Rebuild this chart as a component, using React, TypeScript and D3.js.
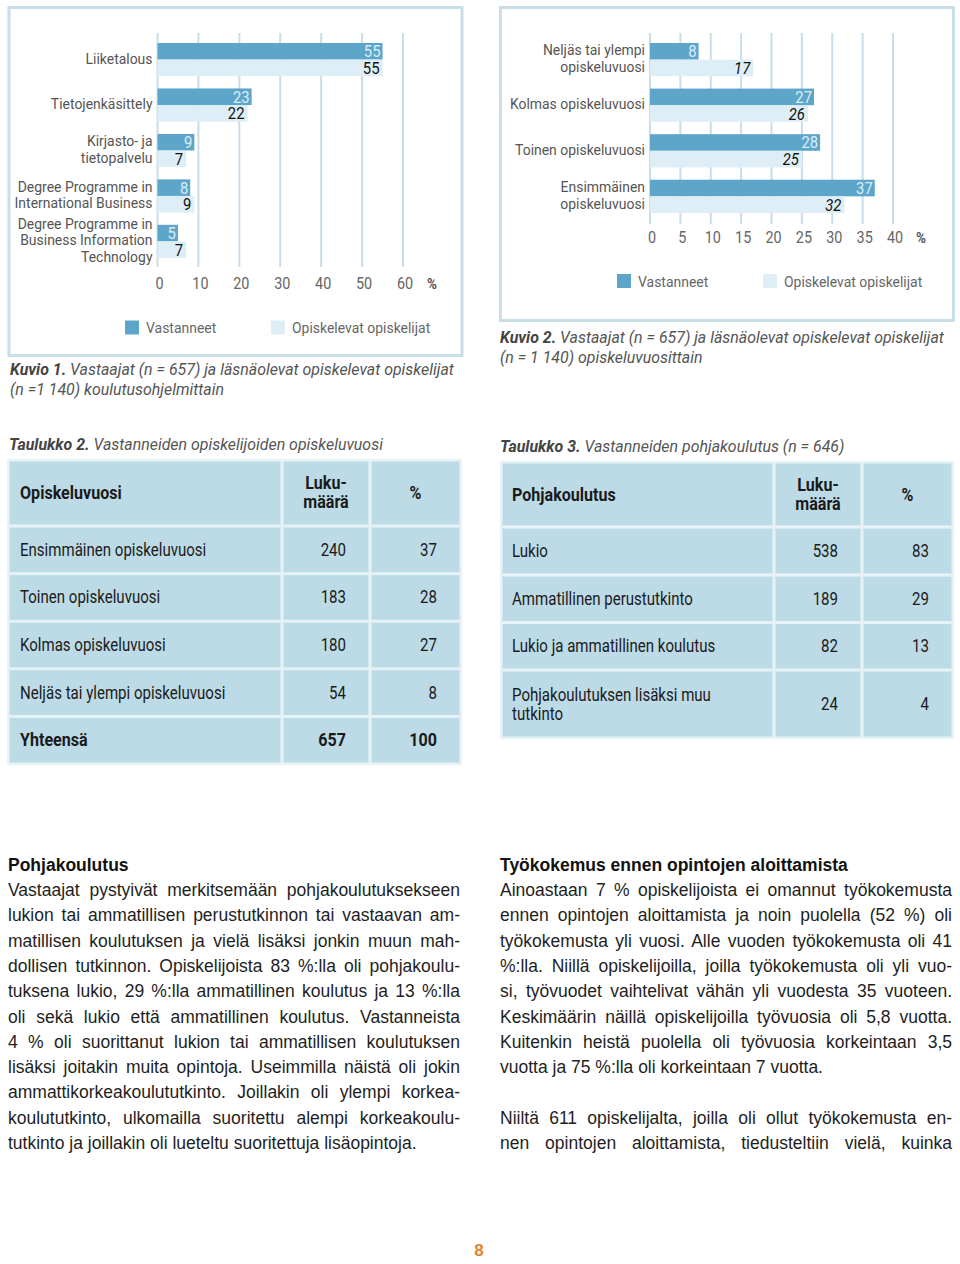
import { useEffect, useRef } from "react";
import type { ReactNode } from "react";
import * as d3 from "d3";

// Kuvio 1: koulutusohjelmat
const programmes = [
  "Liiketalous",
  "Tietojenkäsittely",
  "Kirjasto- ja\ntietopalvelu",
  "Degree Programme in\nInternational Business",
  "Degree Programme in\nBusiness Information\nTechnology",
];
const programmeRespondents = [55, 23, 9, 8, 5];
const programmeStudents = [55, 22, 7, 9, 7];
const programmeTicks = [0, 10, 20, 30, 40, 50, 60];

// Kuvio 2: opiskeluvuodet
const years = [
  "Neljäs tai ylempi\nopiskeluvuosi",
  "Kolmas opiskeluvuosi",
  "Toinen opiskeluvuosi",
  "Ensimmäinen\nopiskeluvuosi",
];
const yearRespondents = [8, 27, 28, 37];
const yearStudents = [17, 26, 25, 32];
const yearTicks = [0, 5, 10, 15, 20, 25, 30, 35, 40];

const seriesNames = ["Vastanneet", "Opiskelevat opiskelijat"];

// Taulukko 2
const table2Rows = [
  "Ensimmäinen opiskeluvuosi",
  "Toinen opiskeluvuosi",
  "Kolmas opiskeluvuosi",
  "Neljäs tai ylempi opiskeluvuosi",
  "Yhteensä",
];
const table2Counts = [240, 183, 180, 54, 657];
const table2Pct = [37, 28, 27, 8, 100];

// Taulukko 3
const table3Rows = [
  "Lukio",
  "Ammatillinen perustutkinto",
  "Lukio ja ammatillinen koulutus",
  "Pohjakoulutuksen lisäksi muu\ntutkinto",
];
const table3Counts = [538, 189, 82, 24];
const table3Pct = [83, 29, 13, 4];

const leftText = [
  "Vastaajat pystyivät merkitsemään pohjakoulutuksekseen",
  "lukion tai ammatillisen perustutkinnon tai vastaavan am-",
  "matillisen koulutuksen ja vielä lisäksi jonkin muun mah-",
  "dollisen tutkinnon. Opiskelijoista 83 %:lla oli pohjakoulu-",
  "tuksena lukio, 29 %:lla ammatillinen koulutus ja 13 %:lla",
  "oli sekä lukio että ammatillinen koulutus. Vastanneista",
  "4 % oli suorittanut lukion tai ammatillisen koulutuksen",
  "lisäksi joitakin muita opintoja. Useimmilla näistä oli jokin",
  "ammattikorkeakoulututkinto. Joillakin oli ylempi korkea-",
  "koulututkinto, ulkomailla suoritettu alempi korkeakoulu-",
  "tutkinto ja joillakin oli lueteltu suoritettuja lisäopintoja.",
];
const rightText = [
  "Ainoastaan 7 % opiskelijoista ei omannut työkokemusta",
  "ennen opintojen aloittamista ja noin puolella (52 %) oli",
  "työkokemusta yli vuosi. Alle vuoden työkokemusta oli 41",
  "%:lla. Niillä opiskelijoilla, joilla työkokemusta oli yli vuo-",
  "si, työvuodet vaihtelivat vähän yli vuodesta 35 vuoteen.",
  "Keskimäärin näillä opiskelijoilla työvuosia oli 5,8 vuotta.",
  "Kuitenkin heistä puolella oli työvuosia korkeintaan 3,5",
  "vuotta ja 75 %:lla oli korkeintaan 7 vuotta.",
  "",
  "Niiltä 611 opiskelijalta, joilla oli ollut työkokemusta en-",
  "nen opintojen aloittamista, tiedusteltiin vielä, kuinka",
];

const COND = 'Roboto, "Noto Sans", sans-serif';
const BODY = '"Liberation Sans", Arimo, sans-serif';
const SQUEEZE = 0.9;
const DARK = "#5ea6c9";
const LIGHT = "#ddeef6";
const GRID = "#c9dde7";
const CELL = "#bddbe6";

// condensed text: the original face is narrow, so squeeze horizontally
function T({
  x,
  y,
  children,
  s = SQUEEZE,
  ...rest
}: {
  x: number;
  y: number;
  children: ReactNode;
  s?: number;
  [k: string]: unknown;
}) {
  return (
    <text transform={`translate(${x},${y}) scale(${s},1)`} {...rest}>
      {children}
    </text>
  );
}

function BarChart({
  cats,
  a,
  b,
  ticks,
  x0,
  x1,
  y0,
  y1,
  gridTop,
  gridBottom,
  tickY,
  pctX,
  italicB,
}: {
  cats: string[];
  a: number[];
  b: number[];
  ticks: number[];
  x0: number;
  x1: number;
  y0: number;
  y1: number;
  gridTop: number;
  gridBottom: number;
  tickY: number;
  pctX: number;
  italicB: boolean;
}) {
  const x = d3.scaleLinear().domain([0, ticks[ticks.length - 1]]).range([x0, x1]);
  const y = d3.scaleBand().domain(cats).range([y0, y1]).paddingInner(0.27);
  const sub = d3.scaleBand().domain(seriesNames).range([0, y.bandwidth()]);
  const bh = sub.bandwidth();
  return (
    <g fontFamily={COND}>
      {ticks.map((t) => (
        <g key={t}>
          <line x1={x(t)} x2={x(t)} y1={gridTop} y2={gridBottom} stroke={GRID} strokeWidth={2} />
          <T x={x(t) + 2} y={tickY} textAnchor="middle" fontSize={16} fill="#666">
            {t}
          </T>
        </g>
      ))}
      <T x={pctX} y={tickY} textAnchor="middle" fontSize={15} fontWeight="bold" fill="#555">
        %
      </T>
      {cats.map((c, i) => {
        const gy = y(c)!;
        const lines = c.split("\n");
        const cy = gy + y.bandwidth() / 2 - 1.5;
        const ya = gy + sub(seriesNames[0])!;
        const yb = gy + sub(seriesNames[1])!;
        return (
          <g key={c}>
            <rect x={x(0)} y={ya} width={x(a[i]) - x(0)} height={bh} fill={DARK} />
            <rect x={x(0)} y={yb} width={x(b[i]) - x(0)} height={bh} fill={LIGHT} />
            <T x={x(a[i]) - 2} y={ya + bh / 2 + 6} textAnchor="end" fontSize={16.5} fill="#d8eef9">
              {a[i]}
            </T>
            <T
              x={x(b[i]) - 3}
              y={yb + bh / 2 + 6}
              textAnchor="end"
              fontSize={16.5}
              fill="#111"
              fontStyle={italicB ? "italic" : "normal"}
            >
              {b[i]}
            </T>
            {lines.map((l, k) => (
              <T
                key={k}
                x={x0 - 5}
                y={cy + (k - (lines.length - 1) / 2) * 16.5 + 5.5}
                textAnchor="end"
                fontSize={15.5}
                fill="#555"
              >
                {l}
              </T>
            ))}
          </g>
        );
      })}
    </g>
  );
}

function Legend({ x, y, gap }: { x: number; y: number; gap: number }) {
  return (
    <g fontFamily={COND} fontSize={15.5} fill="#666">
      {seriesNames.map((s, i) => (
        <g key={s} transform={`translate(${x + i * gap},${y})`}>
          <rect x={0} y={-7} width={14} height={14} fill={i === 0 ? DARK : LIGHT} />
          <T x={21} y={5.5}>
            {s}
          </T>
        </g>
      ))}
    </g>
  );
}

function Table({
  x,
  cols,
  top,
  headerH,
  rowHeights,
  title,
  rows,
  counts,
  pct,
  boldLast,
  padL,
}: {
  x: number;
  cols: number[];
  top: number;
  headerH: number;
  rowHeights: number[];
  title: string;
  rows: string[];
  counts: number[];
  pct: number[];
  boldLast: boolean;
  padL: number;
}) {
  const edges = [x, x + cols[0], x + cols[0] + cols[1], x + cols[0] + cols[1] + cols[2]];
  const rowTops = [top + headerH];
  rowHeights.forEach((h, i) => rowTops.push(rowTops[i] + h));
  const allRows = [{ y: top, h: headerH }, ...rowHeights.map((h, i) => ({ y: rowTops[i], h }))];
  const hc = top + headerH / 2;
  const sb = 0.92;
  return (
    <g fontFamily={COND} fill="#1a1a1a">
      <rect
        x={x - 1}
        y={top - 1}
        width={edges[3] - x + 2}
        height={rowTops[rowTops.length - 1] - top + 2}
        fill="#e6f2f6"
      />
      {allRows.map((r, ri) =>
        [0, 1, 2].map((c) => (
          <rect
            key={`${ri}-${c}`}
            x={edges[c] + 1.5}
            y={r.y + 1.5}
            width={edges[c + 1] - edges[c] - 3}
            height={r.h - 3}
            fill={CELL}
          />
        ))
      )}
      <T x={x + padL} y={hc + 6} s={sb} fontSize={17.5} fontWeight="bold">
        {title}
      </T>
      <T x={(edges[1] + edges[2]) / 2} y={hc - 4} s={sb} textAnchor="middle" fontSize={17.5} fontWeight="bold">
        Luku-
      </T>
      <T x={(edges[1] + edges[2]) / 2} y={hc + 15} s={sb} textAnchor="middle" fontSize={17.5} fontWeight="bold">
        määrä
      </T>
      <T x={(edges[2] + edges[3]) / 2} y={hc + 6} s={sb} textAnchor="middle" fontSize={17.5} fontWeight="bold">
        %
      </T>
      {rows.map((r, i) => {
        const cy = rowTops[i] + rowHeights[i] / 2;
        const lines = r.split("\n");
        const isBold = boldLast && i === rows.length - 1;
        const s = isBold ? sb : 0.86;
        return (
          <g key={r} fontSize={17.5} fontWeight={isBold ? "bold" : "normal"}>
            {lines.map((l, k) => (
              <T key={k} s={s} x={x + padL} y={cy + 6 + (k - (lines.length - 1) / 2) * 19}>
                {l}
              </T>
            ))}
            <T s={s} x={edges[2] - 24} y={cy + 6} textAnchor="end">
              {counts[i]}
            </T>
            <T s={s} x={edges[3] - 24} y={cy + 6} textAnchor="end">
              {pct[i]}
            </T>
          </g>
        );
      })}
    </g>
  );
}

function Paragraph({
  x,
  width,
  heading,
  lines,
}: {
  x: number;
  width: number;
  heading: string;
  lines: string[];
}) {
  return (
    <g fontFamily={BODY} fill="#1e1e1e">
      <text x={x} y={871} fontSize={17.5} fontWeight="bold" fill="#111">
        {heading}
      </text>
      {lines.map((l, i) => {
        const next = lines[i + 1];
        const justify = l !== "" && (next === undefined ? l.endsWith("kuinka") : next !== "");
        return (
          <text
            key={i}
            className={justify ? "justify" : undefined}
            data-width={width}
            x={x}
            y={896 + i * 25.3}
            fontSize={17.5}
          >
            {l}
          </text>
        );
      })}
    </g>
  );
}

function Caption({ x, y, bold, lines }: { x: number; y: number; bold: string; lines: string[] }) {
  const s = 0.965;
  return (
    <g fontFamily={COND} fontSize={16.5} fill="#555" fontStyle="italic">
      <T x={x} y={y} s={s}>
        <tspan fontWeight="bold" fill="#444">
          {bold}
        </tspan>{" "}
        {lines[0]}
      </T>
      {lines.slice(1).map((l, i) => (
        <T key={i} x={x} y={y + 20 * (i + 1)} s={s}>
          {l}
        </T>
      ))}
    </g>
  );
}

export default function App() {
  const svgRef = useRef<SVGSVGElement>(null);

  useEffect(() => {
    const run = () => {
      if (!svgRef.current) return;
      d3.select(svgRef.current)
        .selectAll<SVGTextElement, unknown>("text.justify")
        .each(function () {
          const target = +(this.getAttribute("data-width") || 0);
          this.style.wordSpacing = "0px";
          this.removeAttribute("textLength");
          const w = this.getComputedTextLength();
          const spaces = ((this.textContent || "").match(/ /g) || []).length;
          if (w <= target && spaces > 0) {
            this.style.wordSpacing = `${(target - w) / spaces}px`;
          } else if (w > target) {
            this.setAttribute("textLength", String(target));
            this.setAttribute("lengthAdjust", "spacingAndGlyphs");
          }
        });
    };
    run();
    if (document.fonts) document.fonts.ready.then(run);
  }, []);

  return (
    <svg
      ref={svgRef}
      width={960}
      height={1264}
      style={{ position: "absolute", left: 0, top: 0, background: "#fff" }}
    >
      <rect width={960} height={1264} fill="#fff" />

      {/* Kuvio 1 */}
      <rect x={9} y={7.5} width={453} height={348} fill="#fff" stroke="#c8dee9" strokeWidth={3} />
      <BarChart
        cats={programmes}
        a={programmeRespondents}
        b={programmeStudents}
        ticks={programmeTicks}
        x0={157.5}
        x1={403}
        y0={43}
        y1={258}
        gridTop={33}
        gridBottom={267}
        tickY={289}
        pctX={432}
        italicB={false}
      />
      <Legend x={125} y={327.5} gap={146} />
      <Caption
        x={10}
        y={375}
        bold="Kuvio 1."
        lines={["Vastaajat (n = 657) ja läsnäolevat opiskelevat opiskelijat", "(n =1 140) koulutusohjelmittain"]}
      />

      {/* Kuvio 2 */}
      <rect x={500.5} y={7.5} width={453} height={313} fill="#fff" stroke="#c8dee9" strokeWidth={3} />
      <BarChart
        cats={years}
        a={yearRespondents}
        b={yearStudents}
        ticks={yearTicks}
        x0={650}
        x1={893}
        y0={43}
        y1={213}
        gridTop={33}
        gridBottom={224}
        tickY={243}
        pctX={921}
        italicB={true}
      />
      <Legend x={617} y={281} gap={146} />
      <Caption
        x={500}
        y={343}
        bold="Kuvio 2."
        lines={["Vastaajat (n = 657) ja läsnäolevat opiskelevat opiskelijat", "(n = 1 140) opiskeluvuosittain"]}
      />

      {/* Taulukko 2 */}
      <Caption x={9} y={450} bold="Taulukko 2." lines={["Vastanneiden opiskelijoiden opiskeluvuosi"]} />
      <Table
        x={8}
        cols={[274, 88, 91]}
        top={460}
        headerH={66}
        rowHeights={[47.6, 47.6, 47.6, 47.6, 47.6]}
        title="Opiskeluvuosi"
        rows={table2Rows}
        counts={table2Counts}
        pct={table2Pct}
        boldLast={true}
        padL={12}
      />

      {/* Taulukko 3 */}
      <Caption x={500} y={452} bold="Taulukko 3." lines={["Vastanneiden pohjakoulutus (n = 646)"]} />
      <Table
        x={501}
        cols={[273, 88, 91]}
        top={462}
        headerH={65}
        rowHeights={[48, 47.5, 47.5, 68]}
        title="Pohjakoulutus"
        rows={table3Rows}
        counts={table3Counts}
        pct={table3Pct}
        boldLast={false}
        padL={11}
      />

      <Paragraph x={8} width={452} heading="Pohjakoulutus" lines={leftText} />
      <Paragraph x={500} width={452} heading="Työkokemus ennen opintojen aloittamista" lines={rightText} />

      <text x={479} y={1256} textAnchor="middle" fontFamily={BODY} fontWeight="bold" fontSize={17} fill="#e3822f">
        8
      </text>
    </svg>
  );
}
